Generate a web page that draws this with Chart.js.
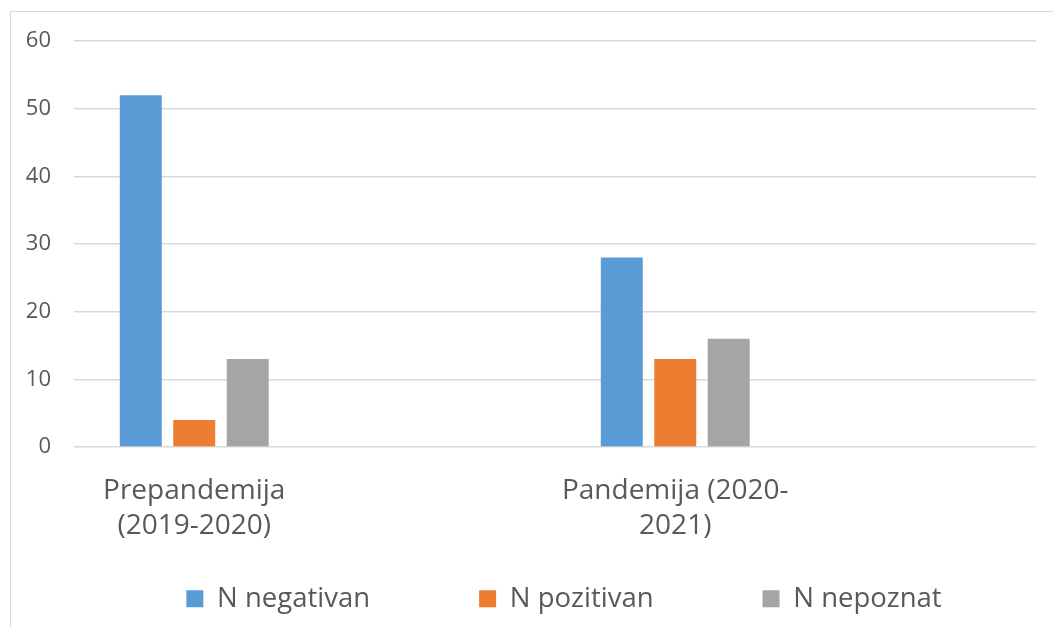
<!DOCTYPE html>
<html>
<head>
<meta charset="utf-8">
<script src="https://cdn.jsdelivr.net/npm/chart.js@4/dist/chart.umd.min.js"></script>
<style>
  html, body { margin: 0; padding: 0; background: #ffffff; overflow: hidden; width: 1053px; height: 627px; }
  #frame { position: absolute; left: 10px; top: 11px; width: 1200px; height: 700px; border: 1.5px solid #d9d9d9; box-sizing: border-box; }
  #c { position: absolute; left: 0; top: 0; }
</style>
</head>
<body>
<div id="frame"></div>
<canvas id="c" width="1128" height="627"></canvas>
<script>
// ---- data ----
const categories = [["Prepandemija", "(2019-2020)"], "", ["Pandemija (2020-", "2021)"], ""];
const seriesNames = ["N negativan", "N pozitivan", "N nepoznat"];
const negativan = [52, null, 28, null];
const pozitivan = [4, null, 13, null];
const nepoznat = [13, null, 16, null];
const yTicks = [0, 10, 20, 30, 40, 50, 60];

const colors = ["#5B9BD5", "#ED7D31", "#A5A5A5"];
const textColor = "#595959";
const fontFamily = "'Open Sans', 'Noto Sans', sans-serif";

// The legend's item padding also offsets it vertically; after layout, grow its box upward
// so the wide item spacing does not push the axis labels away.
const legendShift = {
  id: 'legendShift',
  afterLayout(chart) {
    const lg = chart.legend;
    if (lg) { lg.top -= 85; lg.height += 85; }
  }
};

const ctx = document.getElementById('c').getContext('2d');
new Chart(ctx, {
  type: 'bar',
  data: {
    labels: categories,
    datasets: [
      { label: seriesNames[0], data: negativan, backgroundColor: colors[0] },
      { label: seriesNames[1], data: pozitivan, backgroundColor: colors[1] },
      { label: seriesNames[2], data: nepoznat, backgroundColor: colors[2] }
    ]
  },
  plugins: [legendShift],
  options: {
    responsive: false,
    animation: false,
    events: [],
    layout: { padding: { top: 41, left: 0, right: 0, bottom: 6 } },
    datasets: { bar: { categoryPercentage: 0.667, barPercentage: 0.785 } },
    plugins: {
      tooltip: { enabled: false },
      legend: {
        position: 'bottom',
        maxHeight: 60,
        labels: {
          boxWidth: 17,
          boxHeight: 17,
          padding: 109,
          color: textColor,
          font: { family: fontFamily, size: 27.5 }
        }
      }
    },
    scales: {
      x: {
        grid: { display: false, drawTicks: false },
        border: { display: false },
        ticks: {
          color: textColor,
          font: { family: fontFamily, size: 28, lineHeight: 1.27 },
          padding: 26,
          maxRotation: 0,
          autoSkip: false
        },
        afterFit: s => { s.height = 114; }
      },
      y: {
        min: 0,
        max: 60,
        afterBuildTicks: s => { s.ticks = yTicks.map(v => ({ value: v })); },
        grid: { color: '#d9d9d9', lineWidth: 1.5, drawTicks: false },
        border: { display: false },
        ticks: {
          color: textColor,
          font: { family: fontFamily, size: 22 },
          padding: 23
        },
        afterFit: s => { s.width = 74; }
      },
      yRight: {
        position: 'right',
        display: true,
        grid: { drawOnChartArea: false, drawTicks: false },
        border: { display: false },
        ticks: { display: false },
        afterFit: s => { s.width = 92; }
      }
    }
  }
});
</script>
</body>
</html>
